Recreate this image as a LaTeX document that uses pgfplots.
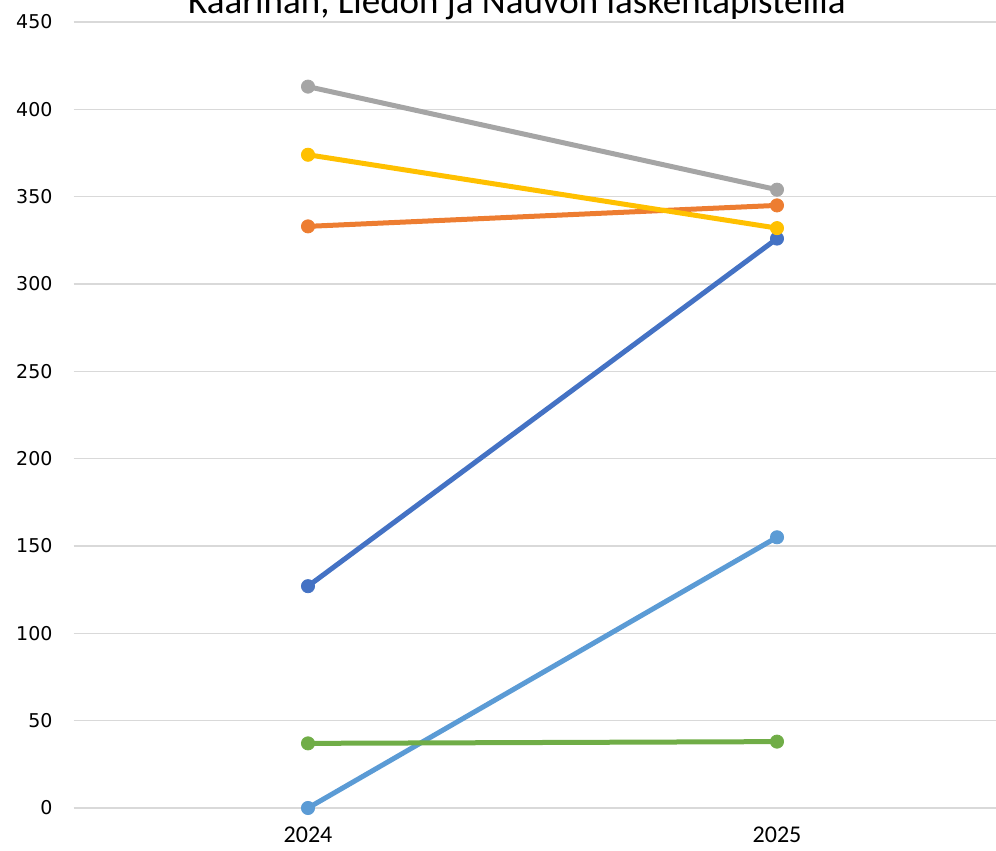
\documentclass[border=0pt]{standalone}
\usepackage{pgfplots}
\pgfplotsset{compat=1.18}
\usepackage{fontspec}
\setmainfont{Carlito}
\newfontfamily\dejavu{DejaVu Sans}

\definecolor{xblue}{HTML}{4472C4}
\definecolor{xorange}{HTML}{ED7D31}
\definecolor{xgray}{HTML}{A5A5A5}
\definecolor{xyellow}{HTML}{FFC000}
\definecolor{xlblue}{HTML}{5B9BD5}
\definecolor{xgreen}{HTML}{70AD47}
\definecolor{gridc}{HTML}{D9D9D9}

\begin{document}
\begin{tikzpicture}
\clip (-36.75pt,-21.5pt) rectangle (461.25pt,404pt);
\begin{axis}[
    scale only axis,
    width=469pt, height=393pt,
    xmin=-0.5, xmax=1.5,
    ymin=0, ymax=450,
    xtick={0,1}, xticklabels={2024,2025},
    ytick={0,50,...,450},
    /pgf/number format/assume math mode=true,
    axis line style={draw=none},
    major tick length=0pt,
    ymajorgrids=true,
    grid style={gridc, line width=0.75pt},
    every axis plot/.append style={line width=2.5pt, mark=*, mark size=3.3pt, mark options={line width=0.4pt}},
    xticklabel style={font=\rmfamily\fontsize{12}{14}\selectfont, yshift=-6pt},
    yticklabel style={font=\dejavu\fontsize{9.5}{11}\selectfont, xshift=-7pt},
    clip=false,
]
\addplot[xblue] coordinates {(0,127) (1,326)};
\addplot[xorange] coordinates {(0,333) (1,345)};
\addplot[xgray] coordinates {(0,413) (1,354)};
\addplot[xyellow] coordinates {(0,374) (1,332)};
\addplot[xlblue] coordinates {(0,0) (1,155)};
\addplot[xgreen] coordinates {(0,37) (1,38)};
\end{axis}
\node[anchor=base, font=\fontsize{18.5}{21}\selectfont] at (221.75pt,397pt) {Kaarinan, Liedon ja Nauvon laskentapisteillä};
\end{tikzpicture}
\end{document}
